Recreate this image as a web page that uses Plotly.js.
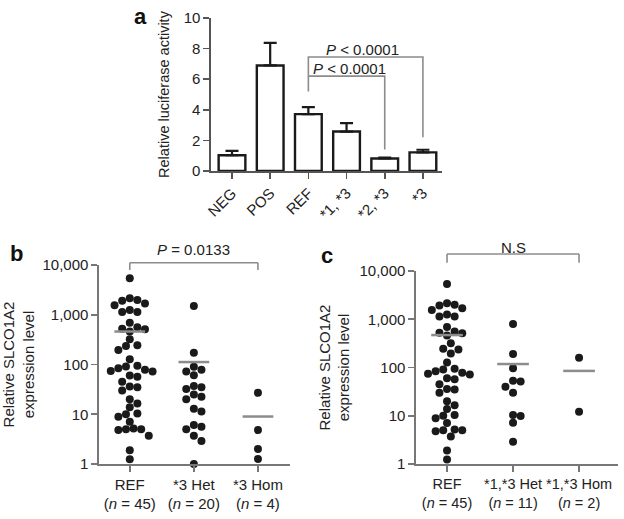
<!DOCTYPE html>
<html>
<head>
<meta charset="utf-8">
<script src="https://cdn.plot.ly/plotly-3.0.1.min.js"></script>
<style>
  body { margin: 0; background: #fff; }
  #chart { width: 624px; height: 519px; }
</style>
</head>
<body>
<div id="chart"></div>
<script>
// panel a - luciferase reporter assay
var constructs = ["NEG", "POS", "REF", "*1, *3", "*2, *3", "*3"];
var activity = [1.03, 6.9, 3.72, 2.58, 0.82, 1.22];
var activityErr = [0.28, 1.48, 0.45, 0.55, 0.05, 0.17];

// panel b - expression by *3 genotype
var groupsB = ["REF<br>(<i>n</i> = 45)", "*3 Het<br>(<i>n</i> = 20)", "*3 Hom<br>(<i>n</i> = 4)"];
var refExpr = [5400, 2140, 1990, 1920, 1690, 1560, 1250, 1140, 1140, 690,
  560, 525, 510, 458, 320, 245, 235, 195, 127, 94,
  91, 84, 78, 74, 72, 60, 57, 45, 36, 35,
  30, 20, 16.5, 13.8, 10.4, 10, 8.9, 7.1, 5.2, 5.0,
  5.0, 4.8, 3.7, 1.9, 1.24];
var het3 = [1500, 173, 90, 78, 72, 61, 37, 35, 32, 25,
  22.5, 20, 12.9, 11.4, 6.1, 5.6, 5.0, 3.7, 2.9, 1.0];
var hom3 = [27, 4.8, 2.0, 1.26];
var meansB = [460, 112, 9];

// panel c - expression by *1,*3 genotype
var groupsC = ["REF<br>(<i>n</i> = 45)", "*1,*3 Het<br>(<i>n</i> = 11)", "*1,*3 Hom<br>(<i>n</i> = 2)"];
var het13 = [795, 190, 96, 53, 51, 40, 30, 10.4, 9.9, 7.2, 2.9];
var hom13 = [160, 12.1];
var meansC = [470, 118, 85];

var W = 624, H = 519;
var font = "Liberation Sans, Arial, Helvetica, sans-serif";
var ink = "#1a1a1a";

// plot areas in pixels
var boxA = {l: 211, r: 442, t: 18, b: 171};
var boxB = {l: 99, r: 290, t: 265, b: 464};
var boxC = {l: 416, r: 618, t: 271, b: 464};
var rangeB = [-0.48, 2.5];
var rangeC = [-0.47, 2.59];

function domX(b) { return [b.l / W, b.r / W]; }
function domY(b) { return [1 - b.b / H, 1 - b.t / H]; }
function py(px) { return 1 - px / H; }

// simple beeswarm: spread points sideways so dots do not overlap much
function swarm(vals, box, range) {
  var pxDec = (box.b - box.t) / 4;
  var pxUnit = (box.r - box.l) / (range[1] - range[0]);
  var d = 7.6;
  var order = vals.map(function (v, i) { return i; })
    .sort(function (a, b) { return vals[b] - vals[a]; });
  var placed = [];
  var off = [];
  order.forEach(function (i) {
    var y = Math.log10(vals[i]) * pxDec;
    for (var k = 0; k < 30; k++) {
      var cand = (k % 2 ? 1 : -1) * Math.ceil(k / 2) * d / 2;
      var ok = placed.every(function (p) {
        return Math.hypot(p.x - cand, p.y - y) >= d;
      });
      if (ok) {
        placed.push({x: cand, y: y});
        off[i] = cand / pxUnit;
        break;
      }
    }
  });
  return off;
}

function dots(groups, box, range, xa, ya) {
  var xs = [], ys = [];
  groups.forEach(function (vals, g) {
    var off = swarm(vals, box, range);
    vals.forEach(function (v, i) { xs.push(g + off[i]); ys.push(v); });
  });
  return {
    x: xs, y: ys, xaxis: xa, yaxis: ya, type: "scatter", mode: "markers",
    marker: {color: ink, size: 8}, cliponaxis: false, hoverinfo: "y"
  };
}

function meanLines(means, xa, ya) {
  var xs = [], ys = [];
  means.forEach(function (m, g) {
    xs.push(g - 0.24, g + 0.24, null);
    ys.push(m, m, null);
  });
  return {
    x: xs, y: ys, xaxis: xa, yaxis: ya, type: "scatter", mode: "lines",
    line: {color: "#8c8c8c", width: 2.5}, hoverinfo: "skip"
  };
}

var bars = {
  x: constructs, y: activity, type: "bar", width: 0.7,
  marker: {color: "#fff", line: {color: ink, width: 2.4}},
  error_y: {type: "data", symmetric: false, array: activityErr,
    arrayminus: activityErr.map(function () { return 0; }),
    color: ink, thickness: 2.2, width: 6.5},
  xaxis: "x", yaxis: "y", hoverinfo: "y"
};

// significance brackets for panel a
var bracketStyle = {color: "#8c8c8c", width: 1.6};
var bracketA1 = {
  x: ["REF", "REF", "*3", "*3"], y: [5.2, 7.45, 7.45, 2.2],
  type: "scatter", mode: "lines", line: bracketStyle,
  xaxis: "x", yaxis: "y", hoverinfo: "skip"
};
var bracketA2 = {
  x: ["REF", "*2, *3", "*2, *3"], y: [6.2, 6.2, 1.4],
  type: "scatter", mode: "lines", line: bracketStyle,
  xaxis: "x", yaxis: "y", hoverinfo: "skip"
};

var data = [
  bars, bracketA1, bracketA2,
  dots([refExpr, het3, hom3], boxB, rangeB, "x2", "y2"),
  meanLines(meansB, "x2", "y2"),
  dots([refExpr, het13, hom13], boxC, rangeC, "x3", "y3"),
  meanLines(meansC, "x3", "y3")
];

var tickFont = {family: font, size: 15, color: "#222"};
var axisCommon = {
  showgrid: false, zeroline: false, showline: true, linecolor: "#777", linewidth: 1.6,
  ticks: "outside", ticklen: 6, tickwidth: 1.6, tickcolor: "#777", tickfont: tickFont
};
function ax(extra) { return Object.assign({}, axisCommon, extra); }

var logTicks = [1, 10, 100, 1000, 10000];
var logText = ["1", "10", "100", "1,000", "10,000"];

// bracket over the dot panels, ends at REF (0) and Hom (2)
function bracket(xa, topPx, dropPx) {
  var s = {type: "line", xref: xa, yref: "paper", line: {color: "#8c8c8c", width: 1.6}};
  var top = py(topPx), drop = py(dropPx);
  return [
    Object.assign({}, s, {x0: 0, x1: 2, y0: top, y1: top}),
    Object.assign({}, s, {x0: 0, x1: 0, y0: top, y1: drop}),
    Object.assign({}, s, {x0: 2, x1: 2, y0: top, y1: drop})
  ];
}

function note(xref, yref, x, y, text, size, color) {
  return {xref: xref, yref: yref, x: x, y: y, text: text, showarrow: false,
    xanchor: "center", yanchor: "middle",
    font: {family: font, size: size || 15, color: color || "#222"}};
}

var layout = {
  width: W, height: H,
  margin: {l: 0, r: 0, t: 0, b: 0},
  paper_bgcolor: "#fff", plot_bgcolor: "#fff",
  showlegend: false,
  font: {family: font, color: "#222"},
  xaxis: ax({domain: domX(boxA), anchor: "y", range: [-0.55, 5.5], tickangle: -45,
    categoryorder: "array", categoryarray: constructs,
    linecolor: "#555", tickcolor: "#555"}),
  yaxis: ax({domain: domY(boxA), anchor: "x", range: [0, 10], dtick: 2,
    linecolor: "#555", tickcolor: "#555",
    title: {text: "Relative luciferase activity", font: {family: font, size: 14.5}, standoff: 10}}),
  xaxis2: ax({domain: domX(boxB), anchor: "y2", range: rangeB, tickangle: 0,
    tickvals: [0, 1, 2], ticktext: groupsB}),
  yaxis2: ax({domain: domY(boxB), anchor: "x2", type: "log", range: [0, 4],
    tickvals: logTicks, ticktext: logText,
    title: {text: "Relative SLCO1A2<br>expression level", font: {family: font, size: 15}, standoff: 6}}),
  xaxis3: ax({domain: domX(boxC), anchor: "y3", range: rangeC, tickangle: 0,
    tickvals: [0, 1, 2], ticktext: groupsC,
    tickfont: {family: font, size: 14.5, color: "#222"}}),
  yaxis3: ax({domain: domY(boxC), anchor: "x3", type: "log", range: [0, 4],
    tickvals: logTicks, ticktext: logText,
    title: {text: "Relative SLCO1A2<br>expression level", font: {family: font, size: 15}, standoff: 6}}),
  shapes: bracket("x2", 262.7, 270).concat(bracket("x3", 254, 262.7)),
  annotations: [
    note("x", "y", 3.43, 7.97, "<i>P</i> < 0.0001"),
    note("x", "y", 3.09, 6.67, "<i>P</i> < 0.0001"),
    note("x2", "paper", 1, py(250), "<i>P</i> = 0.0133"),
    note("x3", "paper", 1, py(247), "N.S"),
    note("paper", "paper", 140 / W, py(17), "<b>a</b>", 22, "#111"),
    note("paper", "paper", 16 / W, py(253), "<b>b</b>", 22, "#111"),
    note("paper", "paper", 327 / W, py(255), "<b>c</b>", 22, "#111")
  ]
};

Plotly.newPlot("chart", data, layout, {displayModeBar: false, staticPlot: true});
</script>
</body>
</html>
